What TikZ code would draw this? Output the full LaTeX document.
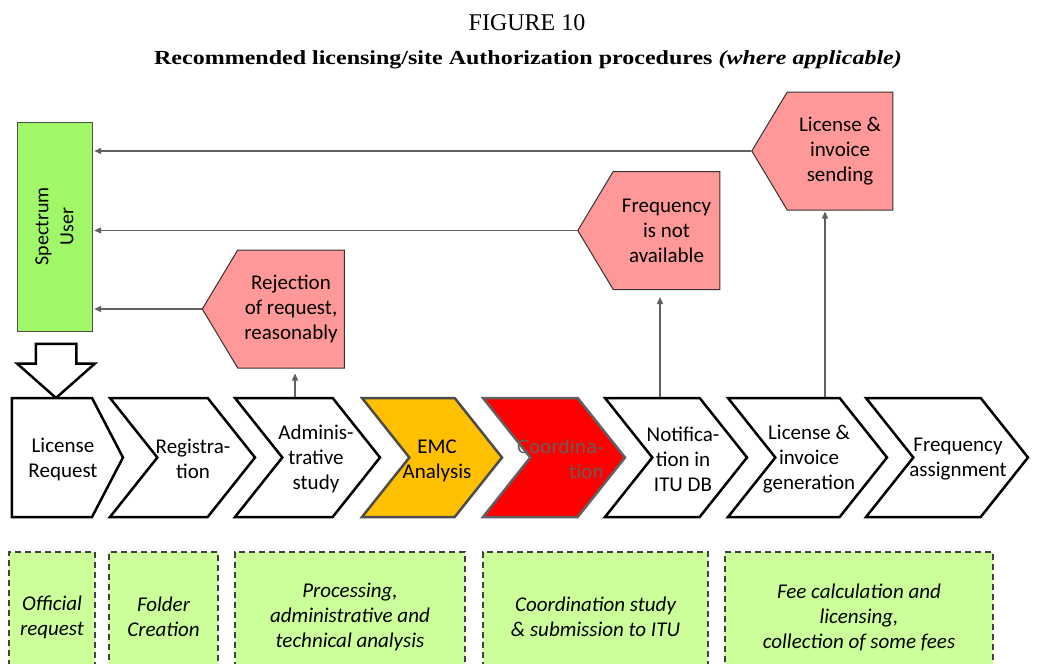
\documentclass[tikz,border=0pt]{standalone}
\usepackage{fontspec}
\setmainfont{Liberation Serif}
\setsansfont{Carlito}
\newfontfamily\dejavu{DejaVu Sans}
\usetikzlibrary{shapes.symbols,shapes.arrows,arrows.meta}
\definecolor{usergreen}{HTML}{A0F868}
\definecolor{replypink}{HTML}{FF9999}
\definecolor{notegreen}{HTML}{CCFF99}
\definecolor{emcyellow}{HTML}{FFC000}
\definecolor{linegray}{HTML}{606060}

\begin{document}
\begin{tikzpicture}[x=1pt, y=-1pt,
  every node/.style={font=\sffamily\fontsize{21}{25}\selectfont, align=center, inner sep=0pt},
  stepchev/.style={signal, signal to=east, signal from=west, draw=black, line width=2.5pt, fill=white, minimum height=119, signal pointer angle=103},
  replybox/.style={signal, signal to=west, draw=black!80, line width=1pt, fill=replypink, minimum height=118, signal pointer angle=118},
  notebox/.style={draw=black!75, dash pattern=on 6pt off 4pt, line width=1.4pt, fill=notegreen, minimum height=130, font=\sffamily\itshape\fontsize{21}{25}\selectfont},
  back/.style={draw=linegray, line width=1.2pt, -{Triangle[length=7pt,width=6pt]}}]
\useasboundingbox (0,0) rectangle (1039,664);

% titles
\node[anchor=base, font=\rmfamily\fontsize{24}{28}\selectfont] (fig) at (527,30) {FIGURE 10};
\node[anchor=base, xscale=1.2, font=\rmfamily\bfseries\fontsize{20}{24}\selectfont] (caption) at (528,64) {Recommended licensing/site Authorization procedures \textit{(where applicable)}};

% spectrum user
\node[draw=black!70, fill=usergreen, minimum width=75, minimum height=209] (user) at (54.5,226.5) {};
\node[rotate=90, font=\sffamily\fontsize{20}{25}\selectfont] (usertext) at (user) {Spectrum\\User};
\node[single arrow, draw=black, line width=2.5pt, fill=white, rotate=-90, minimum height=54, inner ysep=19pt, single arrow head extend=18.5pt, single arrow tip angle=97] (push) at (56,362) {};

% procedure steps
\node[stepchev, signal from=nowhere, signal pointer angle=125, minimum width=111] (req) at (52,457.5) {};
\node[stepchev, minimum width=145] (reg) at (182.5,457.5) {};
\node[stepchev, minimum width=145] (adm) at (307.5,457.5) {};
\node[stepchev, draw=black!70, fill=emcyellow, minimum width=140] (emc) at (432,457.5) {};
\node[stepchev, draw=linegray, fill=red, minimum width=142] (coord) at (554,457.5) {};
\node[stepchev, minimum width=142] (notif) at (676,457.5) {};
\node[stepchev, minimum width=159] (licgen) at (807.5,457.5) {};
\node[stepchev, minimum width=162] (freq) at (947,457.5) {};

\node (reqtext) at (63,459) {License\\Request};
\node (regtext) at (193,459) {Registra-\\tion};
\node (admtext) at (316,459) {Adminis-\\trative\\study};
\node (emctext) at (437,461) {EMC\\Analysis};
\node[anchor=east, align=right, font=\dejavu\fontsize{18}{25}\selectfont, text=linegray] (coordtext) at (604,459) {Coordina-\\tion};
\node (notiftext) at (683,459) {Notifica-\\tion in\\ITU DB};
\node (licgentext) at (809,459) {License \&\\invoice\\generation};
\node (freqtext) at (958,459) {Frequency\\assignment};

% replies to the user
\node[replybox, minimum width=142] (rej) at (291,309) {Rejection\\of request,\\reasonably};
\node[replybox, minimum width=142] (freqna) at (666.5,230.5) {Frequency\\is not\\available};
\node[replybox, minimum width=141] (send) at (840,151) {License \&\\invoice\\sending};

\draw[back, shorten >=2pt] (send.west) -- (send.west -| user.east);
\draw[back, shorten >=2pt] (freqna.west) -- (freqna.west -| user.east);
\draw[back, shorten >=2pt] (rej.west) -- (rej.west -| user.east);
\draw[back, shorten >=5pt] ([xshift=-12.5pt]adm.north) -- ([xshift=-12.5pt]adm.north |- rej.south);
\draw[back, shorten >=7pt] ([xshift=-16pt]notif.north) -- ([xshift=-16pt]notif.north |- freqna.south);
\draw[back, shorten >=1pt] ([xshift=17.5pt]licgen.north) -- ([xshift=17.5pt]licgen.north |- send.south);

% phases
\node[notebox, minimum width=86] (official) at (52,617) {Official\\request};
\node[notebox, minimum width=109] (folder) at (163.5,617) {Folder\\Creation};
\node[notebox, minimum width=230] (process) at (350,617) {Processing,\\administrative and\\technical analysis};
\node[notebox, minimum width=225] (study) at (595.5,617) {Coordination study\\\& submission to ITU};
\node[notebox, minimum width=268] (fees) at (859,617) {Fee calculation and\\licensing,\\collection of some fees};
\end{tikzpicture}
\end{document}
